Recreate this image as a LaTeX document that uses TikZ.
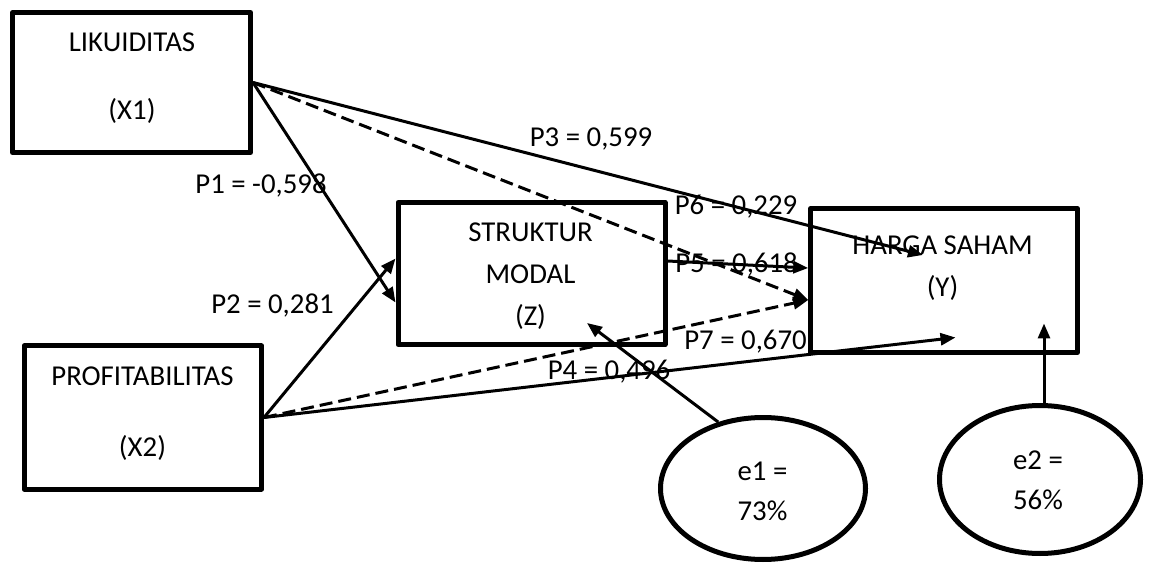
\documentclass[tikz,border=0pt]{standalone}
\usepackage{fontspec}
\setmainfont{Carlito}
\usetikzlibrary{arrows.meta,shapes.geometric}
\newcommand{\diagfont}{\fontsize{28.8}{42}\selectfont}
\tikzset{
	box/.style={draw, line width=5pt, line join=round},
	err/.style={draw, ellipse, line width=5pt},
	txt/.style={align=center, inner sep=0pt, font=\diagfont},
	direct/.style={line width=3pt},
	indirect/.style={line width=3pt, dash pattern=on 13pt off 6pt}
}

\begin{document}
\begin{tikzpicture}[x=1pt, y=1pt, >={Triangle[length=15pt,width=12pt]}]
	\useasboundingbox (0,0) rectangle (1149,563);
	\node[box, minimum width=238, minimum height=140] (x1) at (131.5,480.5) {};
	\node[txt] (x1txt) at (132,485) {LIKUIDITAS\\[26pt](X1)};
	\node[box, minimum width=237.5, minimum height=143] (x2) at (142.75,145.5) {};
	\node[txt] (x2txt) at (142.5,149.5) {PROFITABILITAS\\[29pt](X2)};
	\node[box, minimum width=267, minimum height=142] (z) at (531.5,289.5) {};
	\node[txt] (ztxt) at (530.5,286.5) {STRUKTUR\\MODAL\\(Z)};
	\node[box, minimum width=266.5, minimum height=144] (y) at (944,282.5) {};
	\node[txt] (ytxt) at (942.5,295) {HARGA SAHAM\\(Y)};
	\node[err, minimum width=205, minimum height=142] (e1) at (763,74.5) {};
	\node[txt] (e1txt) at (762.5,71.5) {e1 =\\[-2pt]73\%};
	\node[err, minimum width=201, minimum height=148] (e2) at (1040,83.5) {};
	\node[txt] (e2txt) at (1038,82.5) {e2 =\\[-2pt]56\%};
	%
	\coordinate (p3tip) at (923,308);
	\coordinate (p4tip) at (955.5,225.5);
	\coordinate (e1tip) at (587,240);
	\coordinate (e2tip) at (1044,239.5);
	%
	\node[txt] (p1) at (261,377) {P1 = -0,598};
	\node[txt] (p2) at (272.5,257) {P2 = 0,281};
	\node[txt] (p3) at (591,424) {P3 = 0,599};
	\node[txt] (p6) at (736,356) {P6 = 0,229};
	\node[txt] (p5) at (736.5,298) {P5 = 0,618};
	\node[txt] (p7) at (745.5,221) {P7 = 0,670};
	\node[txt] (p4) at (609,191) {P4 = 0,496};
	%
	\draw [->, direct] (x1.east) to ([yshift=-29]z.west);
	\draw [->, direct] (x2.east) to ([yshift=15]z.west);
	\draw [->, direct] (x1.east) to (p3tip);
	\draw [->, direct] (x2.east) to (p4tip);
	\draw [->, direct] ([yshift=12.5]z.east) to ([yshift=12.5]y.west);
	\draw [->, indirect] (x1.east) to ([yshift=-19.5]y.west);
	\draw [->, indirect] (x2.east) to ([yshift=-19.5]y.west);
	\draw [->, direct] (e1.124) to (e1tip);
	\draw [->, direct] (e2.north -| e2tip) to (e2tip);
\end{tikzpicture}
\end{document}
